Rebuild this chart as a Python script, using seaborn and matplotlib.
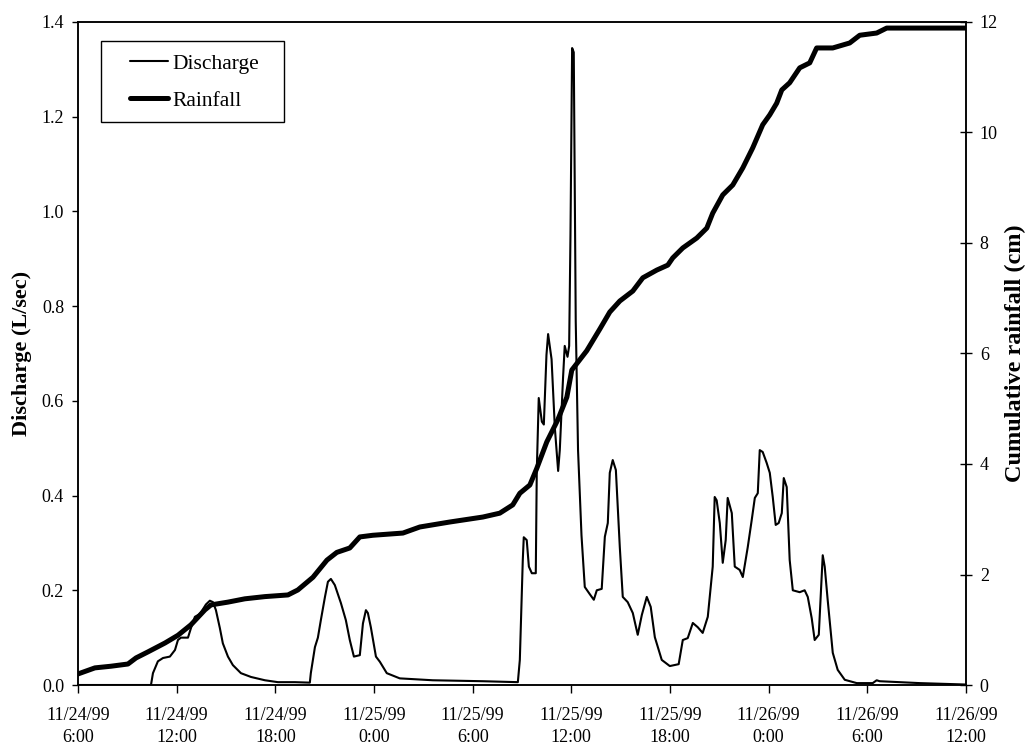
import matplotlib
matplotlib.use("Agg")
import matplotlib.pyplot as plt
from matplotlib.patches import Rectangle
import seaborn as sns
import pandas as pd

# Hours since 11/24/99 6:00 and stream discharge (L/sec)
discharge_hours = [
    0.00, 4.44, 4.56, 4.86, 5.17, 5.59, 5.90, 6.08, 6.26, 6.69, 6.87, 7.11,
    7.42, 7.78, 8.02, 8.21, 8.39, 8.63, 8.81, 9.12, 9.42, 9.91, 10.52, 11.37,
    12.16, 13.19, 14.10, 14.16, 14.41, 14.59, 14.77, 15.02, 15.20, 15.38,
    15.62, 15.99, 16.29, 16.53, 16.78, 17.14, 17.33, 17.51, 17.63, 17.81,
    18.12, 18.36, 18.78, 19.57, 21.58, 24.62, 26.75, 26.87, 27.05, 27.11,
    27.29, 27.42, 27.60, 27.84, 27.90, 28.02, 28.21, 28.33, 28.49, 28.59,
    28.80, 29.00, 29.20, 29.30, 29.50, 29.60, 29.77, 29.87, 29.95, 30.05,
    30.15, 30.27, 30.41, 30.62, 30.82, 31.12, 31.37, 31.55, 31.85, 32.04,
    32.22, 32.34, 32.52, 32.71, 32.95, 33.13, 33.43, 33.74, 34.04, 34.29,
    34.59, 34.83, 35.08, 35.50, 35.99, 36.53, 36.78, 37.08, 37.39, 37.69,
    37.99, 38.30, 38.60, 38.72, 38.84, 39.03, 39.21, 39.39, 39.51, 39.76,
    39.94, 40.24, 40.43, 40.73, 40.97, 41.16, 41.34, 41.46, 41.64, 41.88,
    42.07, 42.25, 42.43, 42.61, 42.80, 42.92, 43.10, 43.28, 43.47, 43.89,
    44.19, 44.38, 44.62, 44.80, 45.05, 45.29, 45.41, 45.59, 45.90, 46.20,
    46.63, 47.36, 48.33, 48.57, 48.75, 51.19, 54.00,
]
discharge_lps = [
    0.000, 0.000, 0.025, 0.050, 0.057, 0.060, 0.074, 0.095, 0.100, 0.100, 0.120, 0.144,
    0.150, 0.170, 0.178, 0.175, 0.158, 0.120, 0.088, 0.060, 0.042, 0.025, 0.017, 0.010,
    0.006, 0.006, 0.005, 0.025, 0.080, 0.100, 0.137, 0.186, 0.218, 0.224,
    0.211, 0.173, 0.137, 0.095, 0.060, 0.063, 0.130, 0.158, 0.152, 0.122,
    0.060, 0.049, 0.025, 0.014, 0.010, 0.008, 0.006, 0.053, 0.264, 0.312,
    0.306, 0.250, 0.236, 0.236, 0.450, 0.606, 0.556, 0.550, 0.697, 0.741,
    0.688, 0.543, 0.452, 0.496, 0.650, 0.716, 0.693, 0.716, 0.950, 1.345,
    1.336, 0.768, 0.496, 0.316, 0.207, 0.192, 0.180, 0.200, 0.203, 0.313,
    0.342, 0.448, 0.475, 0.454, 0.291, 0.186, 0.175, 0.152, 0.106, 0.148,
    0.186, 0.165, 0.101, 0.053, 0.040, 0.044, 0.095, 0.099, 0.131, 0.122,
    0.110, 0.144, 0.250, 0.397, 0.390, 0.342, 0.258, 0.306, 0.395, 0.363,
    0.250, 0.243, 0.228, 0.291, 0.348, 0.395, 0.405, 0.496, 0.492, 0.469,
    0.448, 0.397, 0.338, 0.342, 0.363, 0.437, 0.418, 0.264, 0.200, 0.196,
    0.200, 0.186, 0.141, 0.095, 0.106, 0.274, 0.250, 0.180, 0.068, 0.032,
    0.011, 0.004, 0.004, 0.010, 0.008, 0.004, 0.001,
]

# Hours since 11/24/99 6:00 and cumulative rainfall (cm)
rain_hours = [
    0.00, 1.03, 2.01, 3.04, 3.53, 4.26, 5.29, 6.08, 6.87, 7.72, 8.09, 9.12,
    10.15, 11.37, 12.77, 13.37, 14.29, 15.14, 15.74, 16.53, 17.14, 17.93,
    19.76, 20.79, 22.61, 24.62, 25.65, 26.44, 26.87, 27.48, 27.90, 28.51,
    29.18, 29.73, 30.03, 30.94, 31.73, 32.34, 32.95, 33.74, 34.35, 35.20,
    35.87, 36.17, 36.78, 37.63, 38.24, 38.60, 39.21, 39.82, 40.43, 41.03,
    41.64, 42.07, 42.49, 42.80, 43.28, 43.89, 44.50, 44.92, 45.90, 46.93,
    47.54, 48.57, 49.18, 54.00,
]
rain_cm = [
    0.20, 0.31, 0.34, 0.38, 0.49, 0.60, 0.76, 0.90, 1.09, 1.36, 1.45, 1.50,
    1.56, 1.60, 1.63, 1.72, 1.95, 2.26, 2.40, 2.48, 2.68, 2.71,
    2.75, 2.86, 2.95, 3.04, 3.11, 3.26, 3.47, 3.62, 3.92, 4.40,
    4.80, 5.21, 5.70, 6.05, 6.44, 6.75, 6.95, 7.13, 7.37, 7.51,
    7.60, 7.73, 7.91, 8.09, 8.27, 8.54, 8.87, 9.05, 9.36, 9.72,
    10.14, 10.32, 10.53, 10.77, 10.90, 11.17, 11.26, 11.53, 11.53, 11.62,
    11.76, 11.80, 11.89, 11.89,
]

tick_hours = [0, 6, 12, 18, 24, 30, 36, 42, 48, 54]
tick_labels = [
    "11/24/99\n6:00", "11/24/99\n12:00", "11/24/99\n18:00",
    "11/25/99\n0:00", "11/25/99\n6:00", "11/25/99\n12:00",
    "11/25/99\n18:00", "11/26/99\n0:00", "11/26/99\n6:00",
    "11/26/99\n12:00",
]
discharge_ticks = [0.0, 0.2, 0.4, 0.6, 0.8, 1.0, 1.2, 1.4]
rain_ticks = [0, 2, 4, 6, 8, 10, 12]

sns.set_theme(style="ticks")
plt.rcParams["font.family"] = ["Liberation Serif", "DejaVu Serif"]
plt.rcParams["font.size"] = 13
plt.rcParams["text.color"] = "black"
plt.rcParams["axes.labelcolor"] = "black"

df_q = pd.DataFrame({"hours": discharge_hours, "q": discharge_lps})
df_r = pd.DataFrame({"hours": rain_hours, "rain": rain_cm})

fig = plt.figure(figsize=(10.34, 7.53), dpi=100)
ax = fig.add_axes([0.0754, 0.0903, 0.8588, 0.8805])
ax2 = ax.twinx()

sns.lineplot(data=df_q, x="hours", y="q", ax=ax, color="black",
             linewidth=1.5, label="Discharge", legend=False)
sns.lineplot(data=df_r, x="hours", y="rain", ax=ax2, color="black",
             linewidth=3.6, label="Rainfall", legend=False)

ax.set_xlim(0, 54)
ax.set_ylim(0, 1.4)
ax2.set_ylim(0, 12)

ax.set_xticks(tick_hours)
ax.set_xticklabels(tick_labels, fontsize=13, linespacing=1.35)
ax.set_yticks(discharge_ticks)
ax.set_yticklabels([f"{v:.1f}" for v in discharge_ticks], fontsize=13)
ax2.set_yticks(rain_ticks)
ax2.set_yticklabels([str(v) for v in rain_ticks], fontsize=13)

ax.tick_params(axis="x", direction="out", length=6, width=1, colors="black", pad=10)
ax.tick_params(axis="y", direction="out", length=4, width=1, colors="black", pad=6)
ax2.tick_params(axis="y", direction="inout", length=8, width=1, colors="black", pad=6)

ax.set_xlabel("")
ax.set_ylabel("Discharge (L/sec)", fontsize=16, fontweight="bold", color="black")
ax.yaxis.set_label_coords(-0.052, 0.5)
ax2.set_ylabel("Cumulative rainfall (cm)", fontsize=17.5, fontweight="bold",
               color="black")
ax2.yaxis.set_label_coords(1.044, 0.5)

for a in (ax, ax2):
    for s in a.spines.values():
        s.set_color("black")
        s.set_linewidth(1.1)

# Legend entries, with a plain rectangular frame drawn around them
h1, l1 = ax.get_legend_handles_labels()
h2, l2 = ax2.get_legend_handles_labels()
leg = fig.legend(h1 + h2, l1 + l2, loc="center left",
                 bbox_to_anchor=(130 / 1034, 1 - 82.2 / 753),
                 frameon=False, fontsize=15.5, handlelength=1.77,
                 handletextpad=0.2, borderpad=0, labelspacing=0.8,
                 borderaxespad=0, labelcolor="black")
frame = Rectangle((100.7 / 1034, 1 - 122 / 753), (284 - 100.7) / 1034,
                  (122 - 41) / 753, transform=fig.transFigure,
                  facecolor="white", edgecolor="black", linewidth=1.0,
                  zorder=4)
fig.patches.append(frame)
leg.set_zorder(5)

fig.savefig("out.png", dpi=100, facecolor="white")
